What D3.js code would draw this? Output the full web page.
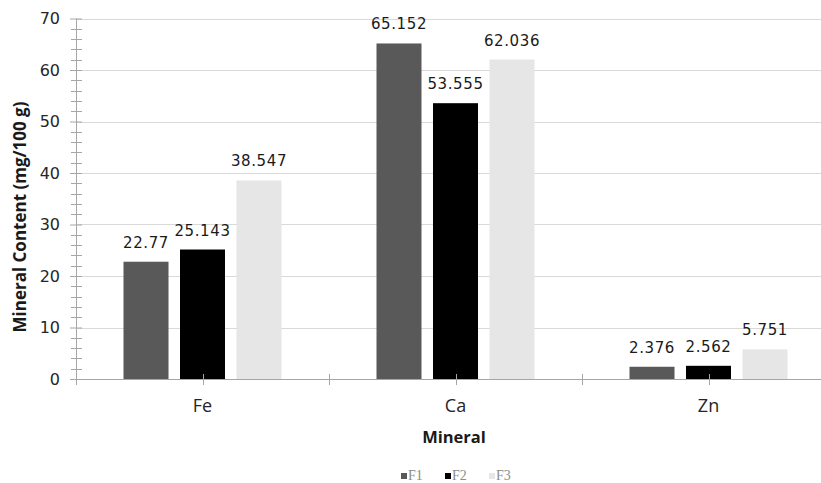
<!DOCTYPE html>
<html>
<head>
<meta charset="utf-8">
<script src="https://cdn.jsdelivr.net/npm/d3@7"></script>
<style>
  html, body { margin: 0; padding: 0; background: #fff; }
  svg { display: block; }
</style>
</head>
<body>
<svg id="chart" width="821" height="483"></svg>
<script>
const categories = ["Fe", "Ca", "Zn"];
const seriesNames = ["F1", "F2", "F3"];
const F1 = [22.77, 65.152, 2.376];
const F2 = [25.143, 53.555, 2.562];
const F3 = [38.547, 62.036, 5.751];
const seriesValues = [F1, F2, F3];
const seriesColors = ["#595959", "#000000", "#e6e6e6"];
const yTicks = [0, 10, 20, 30, 40, 50, 60, 70];
const yLabel = "Mineral Content (mg/100 g)";
const xLabel = "Mineral";

const svg = d3.select("#chart");
const plot = { left: 76, right: 835, top: 18.5, bottom: 379 };

const x = d3.scaleBand().domain(categories).range([plot.left, plot.right]).paddingInner(0).paddingOuter(0);
const y = d3.scaleLinear().domain([0, 70]).range([plot.bottom, plot.top]);

// gridlines
svg.append("g").selectAll("line").data(yTicks.filter(d => d > 0)).join("line")
  .attr("x1", plot.left).attr("x2", plot.right)
  .attr("y1", d => Math.round(y(d)) + 0.5).attr("y2", d => Math.round(y(d)) + 0.5)
  .attr("stroke", "#d9d9d9").attr("stroke-width", 1.2);

// bars
const groupW = 158;
const inner = d3.scaleBand().domain(seriesNames).range([-groupW / 2, groupW / 2]).paddingInner(0.2035).paddingOuter(0);
const barData = [];
categories.forEach((c, ci) => {
  seriesNames.forEach((s, si) => {
    barData.push({ c, s, si, v: seriesValues[si][ci] });
  });
});
svg.append("g").selectAll("rect").data(barData).join("rect")
  .attr("x", d => x(d.c) + x.bandwidth() / 2 + inner(d.s))
  .attr("width", inner.bandwidth())
  .attr("y", d => y(d.v))
  .attr("height", d => y(0) - y(d.v))
  .attr("fill", d => seriesColors[d.si]);

// data labels
svg.append("g").selectAll("text").data(barData).join("text")
  .attr("x", d => x(d.c) + x.bandwidth() / 2 + inner(d.s) + inner.bandwidth() / 2)
  .attr("y", d => y(d.v) - 14)
  .attr("text-anchor", "middle")
  .attr("font-family", "DejaVu Sans")
  .attr("font-size", 15)
  .attr("letter-spacing", 0.6)
  .attr("fill", "#1a1a1a")
  .text(d => String(d.v));

// y axis
const yAxis = d3.axisLeft(y).tickValues(yTicks).tickSize(6).tickPadding(10).tickFormat(d3.format("d"));
const gy = svg.append("g").attr("transform", `translate(${plot.left},0)`).call(yAxis);
gy.select(".domain").attr("stroke", "#a6a6a6").attr("d", `M0.5,${plot.bottom}V${plot.top}`);
gy.selectAll(".tick line").attr("stroke", "#a6a6a6").attr("x1", 6).attr("x2", -6);
gy.selectAll(".tick text").attr("font-family", "DejaVu Sans").attr("font-size", 16).attr("fill", "#262626");
// minor ticks
const minor = d3.range(0, 71, 2).filter(d => d % 10 !== 0);
svg.append("g").selectAll("line").data(minor).join("line")
  .attr("x1", plot.left - 5).attr("x2", plot.left + 6)
  .attr("y1", d => Math.round(y(d)) + 0.5).attr("y2", d => Math.round(y(d)) + 0.5)
  .attr("stroke", "#a6a6a6");

// x axis
svg.append("line").attr("x1", plot.left).attr("x2", plot.right)
  .attr("y1", plot.bottom + 0.5).attr("y2", plot.bottom + 0.5)
  .attr("stroke", "#a6a6a6").attr("stroke-width", 1.2);
// category boundary ticks
const bounds = categories.map(c => x(c)).concat([x(categories[categories.length - 1]) + x.bandwidth()]);
svg.append("g").selectAll("line").data(bounds).join("line")
  .attr("x1", d => Math.round(d) + 0.5).attr("x2", d => Math.round(d) + 0.5)
  .attr("y1", plot.bottom - 5).attr("y2", plot.bottom + 6)
  .attr("stroke", "#a6a6a6");
// category center ticks
svg.append("g").selectAll("line").data(categories).join("line")
  .attr("x1", d => Math.round(x(d) + x.bandwidth() / 2) + 0.5).attr("x2", d => Math.round(x(d) + x.bandwidth() / 2) + 0.5)
  .attr("y1", plot.bottom - 5).attr("y2", plot.bottom + 6)
  .attr("stroke", "#a6a6a6");
svg.append("g").selectAll("text").data(categories).join("text")
  .attr("x", d => x(d) + x.bandwidth() / 2)
  .attr("y", 412)
  .attr("text-anchor", "middle")
  .attr("font-family", "Open Sans")
  .attr("font-size", 18)
  .attr("fill", "#262626")
  .text(d => d);

// axis titles
svg.append("text")
  .attr("transform", `translate(26,217) rotate(-90)`)
  .attr("text-anchor", "middle")
  .attr("font-family", "Open Sans")
  .attr("font-weight", "bold")
  .attr("font-size", 17)
  .attr("fill", "#1a1a1a")
  .text(yLabel);
svg.append("text")
  .attr("x", 454).attr("y", 443)
  .attr("text-anchor", "middle")
  .attr("font-family", "Open Sans")
  .attr("font-weight", "bold")
  .attr("font-size", 16.5)
  .attr("fill", "#1a1a1a")
  .text(xLabel);

// legend
const legendX = [401, 445, 489];
const lg = svg.append("g").selectAll("g").data(seriesNames).join("g")
  .attr("transform", (d, i) => `translate(${legendX[i]},0)`);
lg.append("rect").attr("x", 0).attr("y", 473).attr("width", 6).attr("height", 6)
  .attr("fill", (d, i) => seriesColors[i]);
lg.append("text").attr("x", 7).attr("y", 480)
  .attr("font-family", "Liberation Serif")
  .attr("font-size", 14)
  .attr("fill", "#8c8c8c")
  .text(d => d);
</script>
</body>
</html>
